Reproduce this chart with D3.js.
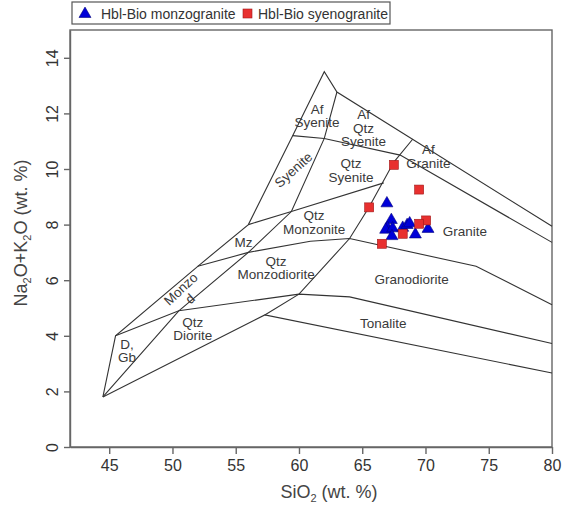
<!DOCTYPE html>
<html lang="en">
<head>
<meta charset="UTF-8">
<title>TAS plutonic</title>
<script src="https://d3js.org/d3.v7.min.js"></script>
<style>
    body { margin: 0; background: #fff; font-family: "Liberation Sans", Arial, sans-serif; }
    svg text { font-family: "Liberation Sans", Arial, sans-serif; }
</style>
</head>
<body>
<div id="chart"></div>
<script>
    // field boundaries (SiO2, Na2O+K2O)
    const outerLine = [[44.5,1.8],[45.5,4.0],[52,6.5],[56,8],[59.5,11.2],[62,13.5],[63,12.77],[80,7.94]];
    const lineA = [[45.5,4.0],[50.5,4.9],[60,5.5],[64,5.4],[80,3.72]];
    const lineB = [[44.5,1.8],[50.5,4.9],[56,7],[59.4,8.47],[62,11.1],[63,12.77]];
    const bottomLine = [[44.5,1.8],[57.3,4.75],[80,2.66]];
    const monzLine = [[52,6.5],[56,7],[60.9,7.4],[64,7.5],[74,6.5],[80,5.12]];
    const qtzSyLine = [[56,8],[59.4,8.47],[66.7,9.5]];
    const afLine = [[59.5,11.2],[62,11.1],[68,10.5],[80,7.36]];
    const qtzLine = [[57.3,4.75],[60,5.5],[64,7.5],[65.5,8.6],[67.5,10.25],[69,11.08]];
    const boundaries = [outerLine, lineA, lineB, bottomLine, monzLine, qtzSyLine, afLine, qtzLine];

    // field labels: lines, x, y, rotation
    const fieldNames = [
        [["Af","Syenite"], 61.43, 11.92, 0],
        [["Af","Qtz","Syenite"], 65.1, 11.47, 0],
        [["Qtz","Syenite"], 64.12, 9.96, 0],
        [["Af","Granite"], 70.22, 10.45, 0],
        [["Granite"], 73.12, 7.76, 0],
        [["Granodiorite"], 68.91, 6.02, 0],
        [["Tonalite"], 66.67, 4.46, 0],
        [["Syenite"], 59.56, 9.97, -42],
        [["Qtz","Monzonite"], 61.19, 8.09, 0],
        [["Qtz","Monzodiorite"], 58.19, 6.44, 0],
        [["Mz"], 55.61, 7.36, 0],
        [["Monzo","d"], 51.02, 5.51, -43],
        [["D,","Gb"], 46.4, 3.46, 0],
        [["Qtz","Diorite"], 51.6, 4.26, 0]
    ];

    const monzograniteSi = [66.95, 67.3, 67.0, 66.85, 67.4, 67.35, 68.2, 68.55, 68.75, 69.2, 70.2];
    const monzograniteAlk = [8.8, 8.2, 7.92, 7.85, 7.9, 7.62, 7.92, 8.02, 8.08, 7.68, 7.88];
    const syenograniteSi = [67.5, 69.5, 65.55, 70.05, 69.5, 68.2, 66.55];
    const syenograniteAlk = [10.15, 9.26, 8.62, 8.15, 8.03, 7.67, 7.31];

    const xTicks = [45, 50, 55, 60, 65, 70, 75, 80];
    const yTicks = [0, 2, 4, 6, 8, 10, 12, 14];

    const W = 568, H = 511;
    const margin = {top: 30, right: 16, bottom: 64, left: 70};

    const svg = d3.select("#chart").append("svg")
        .attr("width", W)
        .attr("height", H);

    const x = d3.scaleLinear().domain([41.9, 80]).range([margin.left, W - margin.right]);
    const y = d3.scaleLinear().domain([0, 15]).range([H - margin.bottom, margin.top]);

    // frame
    svg.append("rect")
        .attr("x", x(41.9)).attr("y", y(15))
        .attr("width", x(80) - x(41.9)).attr("height", y(0) - y(15))
        .attr("fill", "none").attr("stroke", "#666").attr("stroke-width", 1.4);

    const xAxis = svg.append("g")
        .attr("transform", `translate(0,${y(0)})`)
        .call(d3.axisBottom(x).tickValues(xTicks).tickSize(7).tickSizeOuter(0).tickPadding(6));
    xAxis.select(".domain").attr("stroke", "#666").attr("stroke-width", 1.4);
    xAxis.selectAll(".tick line").attr("stroke", "#666").attr("stroke-width", 1.4);
    xAxis.selectAll(".tick text").attr("font-size", 16).attr("fill", "#333");

    const yAxis = svg.append("g")
        .attr("transform", `translate(${x(41.9)},0)`)
        .call(d3.axisLeft(y).tickValues(yTicks).tickSize(6).tickSizeOuter(0));
    yAxis.select(".domain").attr("stroke", "#666").attr("stroke-width", 1.4);
    yAxis.selectAll(".tick line").attr("stroke", "#666").attr("stroke-width", 1.4);
    yAxis.selectAll(".tick text")
        .attr("font-size", 16).attr("fill", "#333")
        .attr("x", 0).attr("dy", null)
        .attr("text-anchor", "middle")
        .attr("dominant-baseline", "central")
        .attr("transform", "translate(-18,0) rotate(-90)");

    // axis titles
    const xt = svg.append("text")
        .attr("x", 329).attr("y", 498)
        .attr("text-anchor", "middle").attr("font-size", 18).attr("fill", "#444");
    xt.append("tspan").text("SiO");
    xt.append("tspan").text("2").attr("font-size", 11).attr("dy", 4);
    xt.append("tspan").text(" (wt. %)").attr("dy", -4);

    const yt = svg.append("text")
        .attr("transform", "translate(27,233) rotate(-90)")
        .attr("text-anchor", "middle").attr("font-size", 18).attr("fill", "#444");
    yt.append("tspan").text("Na");
    yt.append("tspan").text("2").attr("font-size", 11).attr("dy", 4);
    yt.append("tspan").text("O+K").attr("dy", -4);
    yt.append("tspan").text("2").attr("font-size", 11).attr("dy", 4);
    yt.append("tspan").text("O (wt. %)").attr("dy", -4);

    // boundaries
    const line = d3.line().x(d => x(d[0])).y(d => y(d[1]));
    svg.append("g").selectAll("path")
        .data(boundaries)
        .join("path")
        .attr("d", line)
        .attr("fill", "none")
        .attr("stroke", "#333")
        .attr("stroke-width", 1.1);

    // field labels
    fieldNames.forEach(f => {
        const t = svg.append("text")
            .attr("transform", `translate(${x(f[1])},${y(f[2])}) rotate(${f[3]})`)
            .attr("text-anchor", "middle")
            .attr("font-size", 13.5)
            .attr("fill", "#3a3a3a");
        const n = f[0].length;
        f[0].forEach((s, i) => {
            t.append("tspan").attr("x", 0)
                .attr("y", (i - (n - 1) / 2) * 13.5 + 4.7)
                .text(s);
        });
    });

    // samples
    const tri = d3.symbol().type(d3.symbolTriangle).size(62);
    svg.append("g").selectAll("path")
        .data(d3.range(monzograniteSi.length))
        .join("path")
        .attr("d", tri)
        .attr("transform", i => `translate(${x(monzograniteSi[i])},${y(monzograniteAlk[i]) + 1})`)
        .attr("fill", "#0000d8")
        .attr("stroke", "#00007a")
        .attr("stroke-width", 0.6);

    svg.append("g").selectAll("rect")
        .data(d3.range(syenograniteSi.length))
        .join("rect")
        .attr("x", i => x(syenograniteSi[i]) - 4.5)
        .attr("y", i => y(syenograniteAlk[i]) - 4.5)
        .attr("width", 9).attr("height", 9)
        .attr("fill", "#e8302f")
        .attr("stroke", "#a01818")
        .attr("stroke-width", 0.6);

    // legend
    const lg = svg.append("g");
    lg.append("rect")
        .attr("x", 72).attr("y", 2).attr("width", 318).attr("height", 22)
        .attr("fill", "#fff").attr("stroke", "#555").attr("stroke-width", 1.2);
    lg.append("path").attr("d", tri).attr("transform", "translate(85,14)")
        .attr("fill", "#0000d8").attr("stroke", "#00007a").attr("stroke-width", 0.6);
    lg.append("text").attr("x", 101).attr("y", 18.5).attr("font-size", 14).attr("fill", "#333")
        .text("Hbl-Bio monzogranite");
    lg.append("rect").attr("x", 243).attr("y", 9).attr("width", 9).attr("height", 9)
        .attr("fill", "#e8302f").attr("stroke", "#a01818").attr("stroke-width", 0.6);
    lg.append("text").attr("x", 258).attr("y", 18.5).attr("font-size", 14).attr("fill", "#333")
        .text("Hbl-Bio syenogranite");
</script>
</body>
</html>
